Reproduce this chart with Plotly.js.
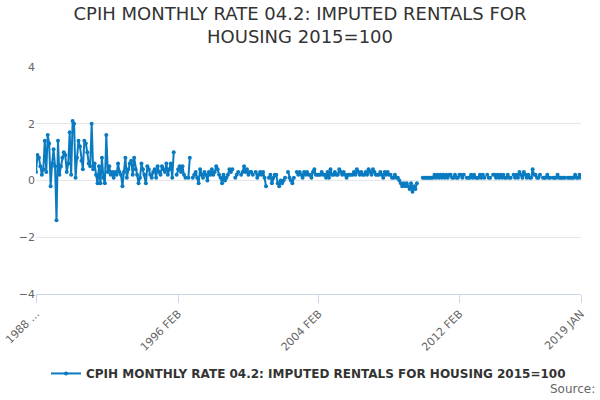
<!DOCTYPE html>
<html>
<head>
<meta charset="utf-8">
<script src="https://cdn.plot.ly/plotly-3.0.1.min.js"></script>
<style>body{margin:0}#chart{width:600px;height:400px}</style>
</head>
<body>
<div id="chart"></div>
<script>
// monthly rates, one row per year starting 1988
const startYear = 1988;
const months = ['JAN','FEB','MAR','APR','MAY','JUN','JUL','AUG','SEP','OCT','NOV','DEC'];
const rates = [
  [0.3,0.9,0.8,0.5,0.2,0.4,1.4,0.3,1.6,1.3,-0.2,0.6],
  [1.1,0.5,-1.4,1.4,0.2,0.5,0.8,1.0,0.9,0.3,0.6,1.7],
  [0.2,2.1,2.0,0.1,0.8,1.4,1.2,0.7,0.4,1.4,1.3,1.0],
  [0.6,0.5,2.0,0.4,0.6,0.2,-0.1,0.5,-0.1,0.8,0.1,-0.1],
  [1.6,0.3,0.5,0.2,0.3,0.1,0.3,0.2,0.6,0.3,0.2,-0.2],
  [0.3,0.8,0.1,0.4,0.6,0.7,0.2,0.8,0.4,0.2,-0.1,0.1],
  [0.6,0.4,0.2,-0.1,0.5,0.4,0.2,0.1,0.3,0.4,0.1,0.5],
  [0.3,0.2,0.5,0.4,0.3,0.6,0.2,0.4,0.6,0.1,1.0,null],
  [0.2,0.4,0.5,0.3,0.5,0.2,0.1,null,0.1,0.8,null,0.1],
  [0.2,0.3,0.1,-0.1,0.4,0.2,0.1,0.3,0.2,0.0,0.3,0.2],
  [0.4,0.2,0.3,0.5,0.4,0.2,0.1,-0.1,0.2,0.0,0.1,0.2],
  [0.4,0.3,0.4,null,0.1,0.2,0.3,null,0.2,0.3,0.5,0.3],
  [0.4,0.2,0.3,0.3,0.2,null,0.3,0.1,0.2,0.3,0.2,0.3],
  [0.1,-0.2,null,0.1,0.2,-0.1,0.1,0.2,0.2,-0.1,-0.2,0.0],
  [-0.1,0.0,0.1,null,0.3,0.1,0.0,-0.1,0.1,null,0.3,0.2],
  [0.3,0.2,0.1,0.3,0.2,0.3,0.2,0.2,0.1,0.3,0.4,0.2],
  [0.2,0.2,0.2,0.3,0.2,0.2,0.1,0.3,0.1,0.4,0.2,0.2],
  [0.3,0.2,0.2,0.4,0.3,0.2,0.3,0.2,0.1,0.2,0.2,0.2],
  [0.2,0.3,0.2,0.4,0.3,0.2,0.3,0.2,0.2,0.3,0.2,0.4],
  [0.3,0.2,0.4,0.3,0.2,0.2,0.2,0.3,0.2,0.1,0.3,0.2],
  [0.3,0.2,0.2,0.1,0.1,0.2,0.1,0.1,0.0,-0.1,-0.2,-0.1],
  [-0.2,-0.1,-0.2,-0.3,-0.1,-0.4,-0.2,-0.3,-0.1,null,null,null],
  [0.1,0.1,0.1,0.1,0.1,0.1,0.1,0.1,0.2,0.1,0.2,0.1],
  [0.2,0.1,0.2,0.1,0.2,0.1,0.2,0.2,0.1,0.1,0.2,0.1],
  [0.1,0.2,0.2,0.1,0.2,null,0.1,0.1,0.1,0.2,0.1,0.2],
  [0.1,0.1,0.1,0.2,0.1,0.2,0.1,null,0.2,0.1,0.1,null],
  [0.2,0.2,0.1,0.2,0.1,0.2,0.1,0.2,0.1,0.1,0.2,0.1],
  [0.1,null,0.2,0.1,0.2,0.1,0.3,0.2,0.1,0.3,0.2,0.1],
  [0.2,0.1,0.1,0.4,0.2,0.2,0.1,0.1,0.2,null,0.1,0.1],
  [0.1,0.2,0.1,0.1,null,0.1,0.1,0.1,0.2,0.1,0.1,0.1],
  [0.1,0.1,null,0.1,0.1,0.1,0.1,0.1,0.2,0.1,0.1,0.2],
  [0.1]
];
const tickVals = ['1988 JAN','1996 FEB','2004 FEB','2012 FEB','2019 JAN'];
const tickText = ['1988 ...','1996 FEB','2004 FEB','2012 FEB','2019 JAN'];

let x = [], y = [];
rates.forEach(function(row, i) {
  row.forEach(function(v, j) {
    x.push((startYear + i) + ' ' + months[j]);
    y.push(v);
  });
});

const blue = '#0a7bc1';
let trace = {
  x: x, y: y, type: 'scatter', mode: 'lines+markers',
  name: 'CPIH MONTHLY RATE 04.2: IMPUTED RENTALS FOR HOUSING 2015=100',
  line: {color: blue, width: 2},
  marker: {color: blue, size: 4},
  connectgaps: false
};

let layout = {
  width: 600, height: 400,
  margin: {l: 36, r: 19, t: 67, b: 106},
  font: {family: 'DejaVu Sans, sans-serif', color: '#333'},
  title: {text: 'CPIH MONTHLY RATE 04.2: IMPUTED RENTALS FOR<br>HOUSING 2015=100',
          font: {size: 18, color: '#333'}, x: 0.5, y: 0.95},
  xaxis: {type: 'category', tickvals: tickVals, ticktext: tickText, tickangle: -45,
          showgrid: false, showline: true, linecolor: '#ccd6eb', ticks: 'outside',
          ticklen: 8, tickcolor: '#ccd6eb', tickfont: {size: 11, color: '#666'},
          range: [0, x.length - 1]},
  yaxis: {range: [-4, 4], dtick: 2, zeroline: false, gridcolor: '#e6e6e6',
          tickfont: {size: 11, color: '#666'}},
  showlegend: true,
  legend: {orientation: 'h', x: 0.5, xanchor: 'center', y: -0.35, yanchor: 'middle',
           font: {size: 12, color: '#333', weight: 'bold'}},
  annotations: [{text: 'Source:', xref: 'paper', yref: 'paper', x: 1.03, y: -0.42,
                 xanchor: 'right', yanchor: 'middle', showarrow: false,
                 font: {size: 12, color: '#666'}}],
  plot_bgcolor: '#fff', paper_bgcolor: '#fff'
};

Plotly.newPlot('chart', [trace], layout, {displayModeBar: false});
</script>
</body>
</html>
